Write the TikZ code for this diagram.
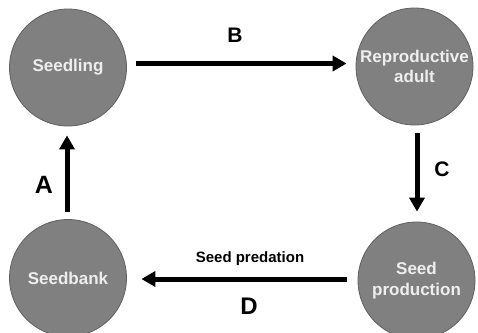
\documentclass[tikz,border=0pt]{standalone}
\usepackage{fontspec}
\setmainfont{Liberation Sans}
\usetikzlibrary{arrows.meta}
\definecolor{circfill}{RGB}{128,128,128}
\definecolor{circedge}{RGB}{95,95,95}
\definecolor{circtext}{RGB}{238,238,238}
\tikzset{
  stage/.style={circle, fill=circfill, draw=circedge, line width=0.8pt, minimum size=117pt, inner sep=0pt,
    text=circtext, align=center, font=\bfseries\fontsize{17}{20.5}\selectfont},
  arr/.style={line width=5pt, -{Triangle[length=14pt,width=15pt]}},
  letter/.style={font=\bfseries\fontsize{#1}{#1}\selectfont},
  small/.style={font=\bfseries\fontsize{15}{18}\selectfont}
}
\begin{document}
\begin{tikzpicture}[x=1pt,y=1pt]
\useasboundingbox (0,0) rectangle (478,-332);
\node[stage] (s) at (68,-67.5) {Seedling};
\node[stage] (r) at (414.5,-66.5) {Reproductive\\adult};
\node[stage] (sb) at (68,-278) {Seedbank};
\node[stage] (p) at (416.5,-280.5) {Seed\\production};
\draw[arr, shorten <=9.5pt, shorten >=9pt] ([yshift=4pt]s.east) -- ([yshift=3pt]r.west);
\draw[arr, shorten <=8pt, shorten >=10pt] ([xshift=2.5pt]r.south) -- ([xshift=0.5pt]p.north);
\draw[arr, shorten <=11pt, shorten >=14.5pt] ([yshift=1.5pt]p.west) -- ([yshift=-1pt]sb.east);
\draw[arr, shorten <=7.5pt, shorten >=9pt] ([xshift=-1pt]sb.north) -- ([xshift=-1pt]s.south);
\node[letter=21] (lb) at (235,-35) {B};
\node[letter=21] (lc) at (442,-169) {C};
\node[letter=25] (la) at (44,-185) {A};
\node[letter=24] (ld) at (249,-306) {D};
\node[small] (sp) at (250,-259) {Seed predation};
\end{tikzpicture}
\end{document}
